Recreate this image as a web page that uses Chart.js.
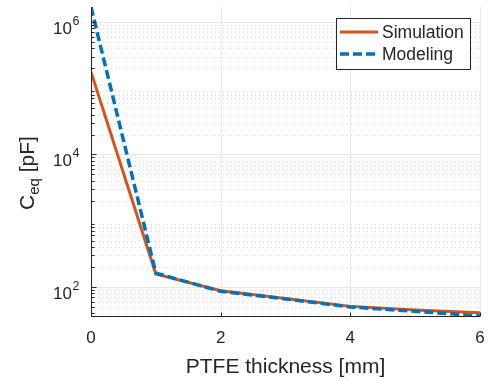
<!DOCTYPE html>
<html>
<head>
<meta charset="utf-8">
<script src="https://cdn.jsdelivr.net/npm/chart.js@4"></script>
<style>
  html, body { margin: 0; padding: 0; background: #fff; }
  #wrap { width: 489px; height: 381px; }
</style>
</head>
<body>
<div id="wrap"><canvas id="ceqChart"></canvas></div>
<script>
const thickness = [0, 1, 2, 3, 4, 5, 6]
const simulation = [1.76e5, 157, 88, 67, 51, 45, 41]
const modeling = [1.68e6, 162, 86, 66, 50, 43, 36.5]
const xTicks = [0, 2, 4, 6]
const yMajor = [1e2, 1e4, 1e6]
const yMin = 36.5
const yMax = 1.68e6

const FONT = "'Liberation Sans', Arial, sans-serif"
const INK = '#262626'

const pts = arr => thickness.map((x, i) => ({ x: x, y: arr[i] }))

// minor ticks 2..9 x 10^k inside the range
const yMinor = []
for (let k = 1; k <= 6; k++) {
  for (let m = 2; m <= 9; m++) {
    const v = m * Math.pow(10, k)
    if (v >= yMin && v <= yMax) yMinor.push(v)
  }
}

const noPad = s => {
  s.paddingLeft = 0; s.paddingRight = 0; s.paddingTop = 0; s.paddingBottom = 0
}

const matlabAxes = {
  id: 'matlabAxes',
  beforeDatasetsDraw(chart) {
    const { ctx, chartArea: a, scales: { x, y } } = chart
    ctx.save()
    // dotted minor grid
    ctx.strokeStyle = '#dadada'
    ctx.lineWidth = 1
    ctx.setLineDash([1, 3])
    yMinor.forEach(v => {
      const py = Math.round(y.getPixelForValue(v)) + 0.5
      ctx.beginPath(); ctx.moveTo(a.left, py); ctx.lineTo(a.right, py); ctx.stroke()
    })
    // solid major grid
    ctx.setLineDash([])
    ctx.strokeStyle = '#e8e8e8'
    yMajor.forEach(v => {
      const py = Math.round(y.getPixelForValue(v)) + 0.5
      ctx.beginPath(); ctx.moveTo(a.left, py); ctx.lineTo(a.right, py); ctx.stroke()
    })
    xTicks.forEach(v => {
      const px = Math.round(x.getPixelForValue(v)) + 0.5
      ctx.beginPath(); ctx.moveTo(px, a.top); ctx.lineTo(px, a.bottom); ctx.stroke()
    })
    ctx.restore()
  },
  afterDatasetsDraw(chart) {
    const { ctx, chartArea: a, scales: { x, y } } = chart
    ctx.save()
    const L = Math.round(a.left) + 0.5
    const B = Math.round(a.bottom) + 0.5
    ctx.strokeStyle = INK
    ctx.lineWidth = 1
    ctx.beginPath()
    ctx.moveTo(L, a.top); ctx.lineTo(L, B); ctx.lineTo(a.right, B)
    ctx.stroke()
    // inward ticks
    ctx.beginPath()
    yMajor.forEach(v => {
      const py = Math.round(y.getPixelForValue(v)) + 0.5
      ctx.moveTo(L, py); ctx.lineTo(L + 5, py)
    })
    yMinor.forEach(v => {
      const py = Math.round(y.getPixelForValue(v)) + 0.5
      ctx.moveTo(L, py); ctx.lineTo(L + 3, py)
    })
    xTicks.forEach(v => {
      const px = Math.round(x.getPixelForValue(v)) + 0.5
      ctx.moveTo(px, B); ctx.lineTo(px, B - 4)
    })
    ctx.stroke()

    // y tick labels 10^k
    ctx.fillStyle = INK
    ctx.textBaseline = 'alphabetic'
    yMajor.forEach(v => {
      const py = y.getPixelForValue(v)
      ctx.font = '17px ' + FONT
      ctx.textAlign = 'right'
      ctx.fillText('10', 72, py + 12)
      ctx.font = '12.5px ' + FONT
      ctx.textAlign = 'left'
      ctx.fillText(String(Math.round(Math.log10(v))), 72.5, py + 3)
    })

    // y title C_eq [pF]
    ctx.save()
    ctx.translate(34, 210)
    ctx.rotate(-Math.PI / 2)
    ctx.textAlign = 'left'
    ctx.font = '21px ' + FONT
    ctx.fillText('C', 0, 0)
    let w = ctx.measureText('C').width
    ctx.font = '15px ' + FONT
    ctx.fillText('eq', w, 5)
    w += ctx.measureText('eq').width
    ctx.font = '21px ' + FONT
    ctx.fillText(' [pF]', w, 0)
    ctx.restore()

    // legend
    const bx = 336.5, by = 18.5, bw = 134, bh = 51
    ctx.fillStyle = '#fff'
    ctx.fillRect(bx, by, bw, bh)
    ctx.strokeStyle = INK
    ctx.lineWidth = 1
    ctx.strokeRect(bx, by, bw, bh)
    chart.data.datasets.forEach((ds, i) => {
      const ly = 32 + i * 22
      ctx.strokeStyle = ds.borderColor
      ctx.lineWidth = ds.borderWidth
      ctx.setLineDash(ds.borderDash || [])
      ctx.beginPath(); ctx.moveTo(340, ly); ctx.lineTo(378, ly); ctx.stroke()
      ctx.setLineDash([])
      ctx.fillStyle = INK
      ctx.font = '17.5px ' + FONT
      ctx.textBaseline = 'middle'
      ctx.textAlign = 'left'
      ctx.fillText(ds.label, 382, ly + 1)
    })
    ctx.restore()
  }
}

const chart = new Chart(document.getElementById('ceqChart'), {
  type: 'line',
  data: {
    datasets: [{
      label: 'Simulation',
      data: pts(simulation),
      borderColor: '#D95319',
      borderWidth: 3,
      order: 1,
    }, {
      label: 'Modeling',
      data: pts(modeling),
      borderColor: '#0072BD',
      borderWidth: 3.5,
      borderDash: [9, 4],
      order: 0,
    }]
  },
  options: {
    responsive: true,
    maintainAspectRatio: false,
    animation: false,
    layout: { padding: { top: 7, right: 9, left: 0, bottom: 0 } },
    elements: { point: { radius: 0 }, line: { tension: 0, fill: false } },
    scales: {
      x: {
        type: 'linear',
        min: 0,
        max: 6,
        afterBuildTicks: s => { s.ticks = xTicks.map(v => ({ value: v })) },
        afterFit: s => { s.height = 65; noPad(s) },
        grid: { display: false, drawTicks: false },
        border: { display: false },
        ticks: { color: INK, font: { family: FONT, size: 17 }, padding: 12, maxRotation: 0 },
        title: {
          display: true,
          text: 'PTFE thickness [mm]',
          color: INK,
          font: { family: FONT, size: 21 },
          padding: { top: 0, bottom: 1 }
        }
      },
      y: {
        type: 'logarithmic',
        min: yMin,
        max: yMax,
        afterFit: s => { s.width = 91; noPad(s) },
        grid: { display: false },
        border: { display: false },
        ticks: { display: false }
      }
    },
    plugins: {
      legend: { display: false },
      tooltip: { enabled: false }
    }
  },
  plugins: [matlabAxes]
})
</script>
</body>
</html>
